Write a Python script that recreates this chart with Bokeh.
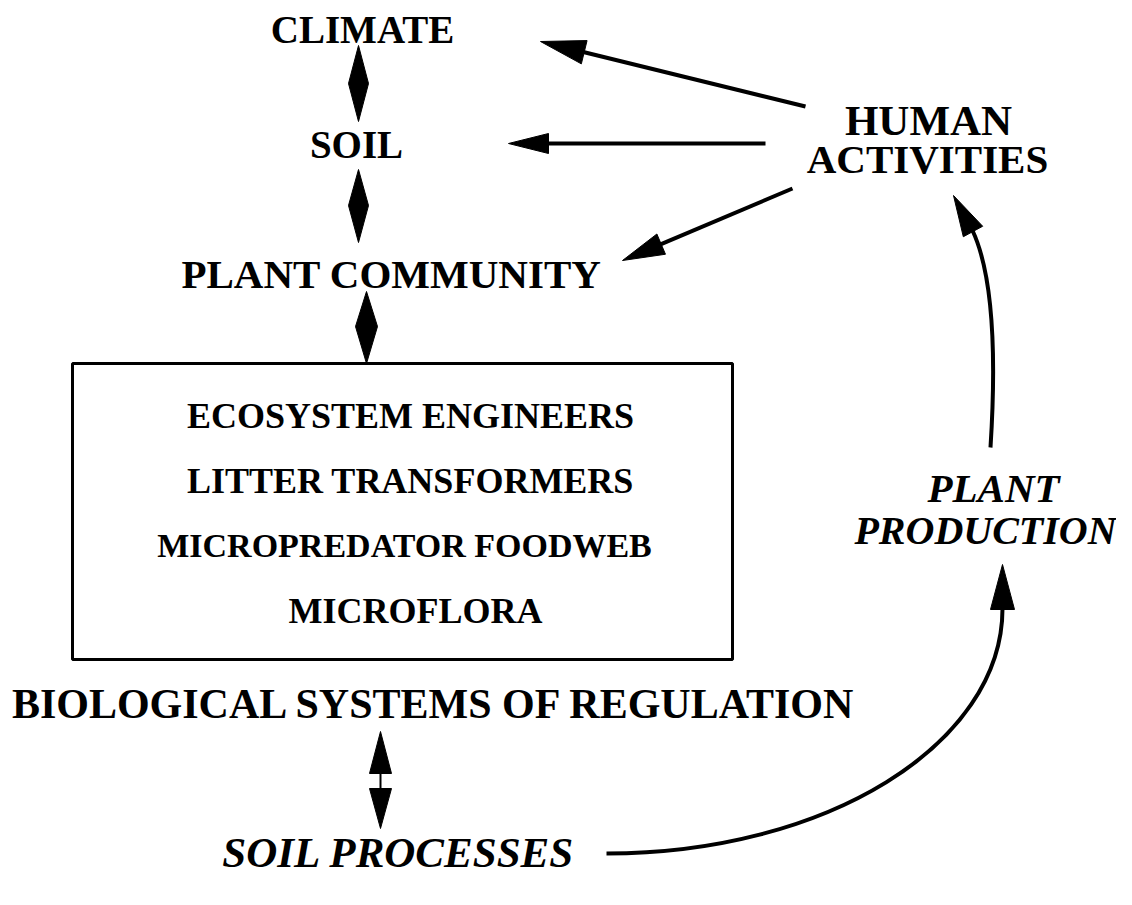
import numpy as np
from bokeh.plotting import figure
from bokeh.models import Range1d
from bokeh.core.properties import value
from bokeh.embed import file_html
from bokeh.resources import INLINE

FONT = "Liberation Serif"
INK = "#000000"

# ---------------- content ----------------
upright_labels = ["CLIMATE", "SOIL", "PLANT COMMUNITY", "HUMAN", "ACTIVITIES",
                  "BIOLOGICAL SYSTEMS OF REGULATION"]
box_labels = ["ECOSYSTEM ENGINEERS", "LITTER TRANSFORMERS",
              "MICROPREDATOR FOODWEB", "MICROFLORA"]
italic_labels = ["PLANT", "PRODUCTION", "SOIL PROCESSES"]

# ---------------- layout (picture pixel coordinates) ----------------
upright_x = [362, 356, 391, 928, 927, 434]
upright_y = [29, 144, 273, 120, 158, 703]
upright_size = [39, 39, 41, 43, 41, 42]

box_x = [410, 410, 404, 415]
box_y = [415, 480, 545, 610]
box_size = [36, 36, 34, 36]

italic_x = [993, 985, 398]
italic_y = [487, 530, 852]
italic_size = [41, 40, 43]

frame_box = dict(left=72, right=732, top=363, bottom=659)

# straight arrows: (tail, tip, head length, head half width)
straight_arrows = [((805, 106), (540, 41), 45, 12),
                   ((765, 143), (508, 143), 40, 10),
                   ((792, 188), (622, 260), 42, 11)]

# diamonds (double-headed short arrows): x, top tip, middle, bottom tip, half width
diamonds = [(358, 45, 83, 121, 10),
            (358, 169, 205, 242, 10),
            (366, 291, 326, 363, 11)]

p = figure(width=1116, height=889, x_range=Range1d(0, 1116), y_range=Range1d(889, 0),
           output_backend="svg", toolbar_location=None, min_border=0,
           x_axis_type=None, y_axis_type=None)
p.grid.visible = False
p.outline_line_color = None
p.background_fill_color = "white"
p.border_fill_color = "white"


def head_poly(tip, base, hw):
    tip = np.array(tip, float)
    base = np.array(base, float)
    d = tip - base
    d /= np.linalg.norm(d)
    n = np.array([-d[1], d[0]])
    a = base + n * hw
    b = base - n * hw
    return [tip[0], a[0], b[0]], [tip[1], a[1], b[1]]


hx, hy = [], []
for tail, tip, L, hw in straight_arrows:
    t = np.array(tail, float)
    q = np.array(tip, float)
    u = (q - t) / np.linalg.norm(q - t)
    base = q - u * L
    p.segment(x0=[t[0]], y0=[t[1]], x1=[base[0] + u[0] * 2], y1=[base[1] + u[1] * 2],
              line_width=4, line_color=INK)
    xs, ys = head_poly(q, base, hw)
    hx.append(xs)
    hy.append(ys)

for x, top, mid, bot, hw in diamonds:
    hx.append([x, x + hw, x, x - hw])
    hy.append([top, mid, bot, mid])

# bottom double arrow (thin shaft)
dx, d_top, d_b1, d_b2, d_bot, d_hw = 380, 731, 773, 788, 828, 11
hx.append([dx, dx + d_hw, dx - d_hw]); hy.append([d_top, d_b1, d_b1])
hx.append([dx, dx + d_hw, dx - d_hw]); hy.append([d_bot, d_b2, d_b2])
p.segment(x0=[dx], y0=[d_b1 - 2], x1=[dx], y1=[d_b2 + 2], line_width=2, line_color=INK)

# curved arrow: plant production -> human activities
p.quadratic(x0=[990], y0=[447], x1=[972], y1=[230], cx=[1000], cy=[290],
            line_width=4, line_color=INK)
xs, ys = head_poly((953, 195), (972.5, 231), 11)
hx.append(xs); hy.append(ys)

# curved arrow: soil processes -> plant production (quarter ellipse)
k = 0.5523
x0, y0, x3, y3, yc = 606, 853, 1002, 608, 610
p.bezier(x0=[x0], y0=[y0], x1=[x3], y1=[y3],
         cx0=[x0 + k * (x3 - x0)], cy0=[y0], cx1=[x3], cy1=[yc + k * (y0 - yc)],
         line_width=4, line_color=INK)
xs, ys = head_poly((1002, 564), (1002, 609), 12)
hx.append(xs); hy.append(ys)

p.patches(xs=hx, ys=hy, fill_color=INK, line_color=INK, line_width=1)

# box
p.quad(left=[frame_box["left"]], right=[frame_box["right"]],
       top=[frame_box["top"]], bottom=[frame_box["bottom"]],
       fill_alpha=0, line_color=INK, line_width=3)

# texts
for lab, x, y, s in zip(upright_labels, upright_x, upright_y, upright_size):
    p.text(x=[x], y=[y], text=[lab], text_font=value(FONT), text_font_style="bold",
           text_font_size=f"{s}px", text_align="center", text_baseline="alphabetic",
           text_color=INK)
for lab, x, y, s in zip(box_labels, box_x, box_y, box_size):
    p.text(x=[x], y=[y], text=[lab], text_font=value(FONT), text_font_style="bold",
           text_font_size=f"{s}px", text_align="center", text_baseline="alphabetic",
           text_color=INK)
for lab, x, y, s in zip(italic_labels, italic_x, italic_y, italic_size):
    p.text(x=[x], y=[y], text=[lab], text_font=value(FONT), text_font_style="bold italic",
           text_font_size=f"{s}px", text_align="center", text_baseline="alphabetic",
           text_color=INK)

open("out.html", "w").write(file_html(p, INLINE))
